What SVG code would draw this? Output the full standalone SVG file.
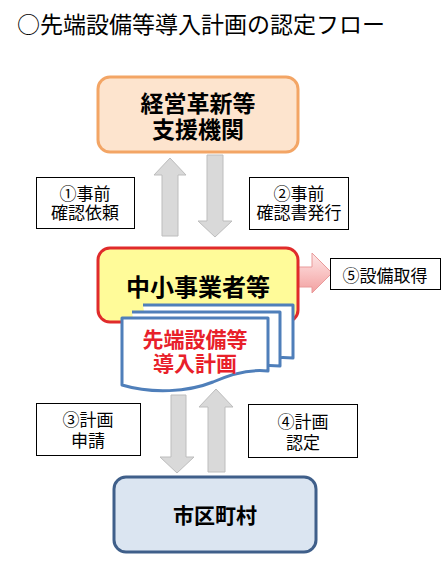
<svg xmlns="http://www.w3.org/2000/svg" width="447" height="572" viewBox="0 0 447 572">
<defs>
<linearGradient id="pinkGrad" x1="0" y1="0" x2="0" y2="1">
<stop offset="0" stop-color="#fde6e6"/>
<stop offset="0.5" stop-color="#f9c4c4"/>
<stop offset="1" stop-color="#f2a0a0"/>
</linearGradient>
</defs>
<style>
text{font-family:"Noto Sans CJK JP","Noto Sans CJK SC",sans-serif;text-anchor:middle;fill:#000}
.title{font-size:23px;text-anchor:start}
.lbl{font-size:17px}
.big{font-weight:bold}
.gray{fill:#d9d9d9;stroke:#bdbdbd;stroke-width:1}
.note{fill:#fff;stroke:#000;stroke-width:1}
.doc{fill:#fff;stroke:#4f7fba;stroke-width:3;stroke-linejoin:round}
</style>
<rect width="447" height="572" fill="#fff"/>
<text class="title" x="17" y="33">○先端設備等導入計画の認定フロー</text>

<g id="connectors">
<polygon class="gray" points="170,158 186,175 178,175 178,236 162,236 162,175 154,175"/>
<polygon class="gray" points="207,155 223,155 223,221 232,221 215,237 198,221 207,221"/>
<polygon class="gray" points="171,395 186,395 186,457 194,457 177,473 160,457 171,457"/>
<polygon class="gray" points="216,389 233,407 225,407 225,472 208,472 208,407 199,407"/>
<polygon points="280,267 312,267 312,253 332,273 312,293 312,287 280,287" fill="url(#pinkGrad)" stroke="#e99a9a" stroke-width="1"/>
</g>

<g id="node-support">
<rect x="98" y="77" width="200" height="75" rx="12" fill="#fde4ce" stroke="#f3a565" stroke-width="3"/>
<text class="big" x="198" y="112" font-size="23">経営革新等</text>
<text class="big" x="198" y="138" font-size="23">支援機関</text>
</g>

<g id="node-step1">
<rect class="note" x="36.5" y="177.5" width="98" height="51"/>
<text class="lbl" x="85" y="199.5">①事前</text>
<text class="lbl" x="85" y="218.5">確認依頼</text>
</g>

<g id="node-step2">
<rect class="note" x="249.5" y="177.5" width="99" height="52"/>
<text class="lbl" x="299" y="199.5">②事前</text>
<text class="lbl" x="299" y="218.5">確認書発行</text>
</g>

<g id="node-sme">
<rect x="98" y="248" width="200" height="74" rx="12" fill="#fffb99" stroke="#e02b2b" stroke-width="3"/>
<text class="big" x="198" y="296" font-size="24">中小事業者等</text>
</g>

<g id="node-step5">
<rect class="note" x="330.5" y="258.5" width="110" height="31"/>
<text class="lbl" x="385" y="281.5">⑤設備取得</text>
</g>

<g id="node-plan">
<path class="doc" d="M143,305 H293 V358 C272,356 258,360 240,368 C218,378 180,378 153,372"/>
<path class="doc" d="M132,312 H280 V366 C258,364 244,368 226,376 C204,386 166,386 142,379"/>
<path class="doc" d="M122,318 H268 V371 C250,369 233,373 213,382 C188,392 152,394 122,385 Z"/>
<text class="big" x="195" y="347" font-size="21" fill="#e8202a" style="fill:#e8202a">先端設備等</text>
<text class="big" x="195" y="371" font-size="21" style="fill:#e8202a">導入計画</text>
</g>

<g id="node-step3">
<rect class="note" x="36.5" y="403.5" width="104" height="52"/>
<text class="lbl" x="88" y="425.5">③計画</text>
<text class="lbl" x="88" y="446.5">申請</text>
</g>

<g id="node-step4">
<rect class="note" x="248.5" y="404.5" width="109" height="53"/>
<text class="lbl" x="303" y="427.5">④計画</text>
<text class="lbl" x="303" y="448.5">認定</text>
</g>

<g id="node-municipality">
<rect x="114" y="477" width="202" height="75" rx="12" fill="#dbe5f1" stroke="#3f5f8a" stroke-width="3"/>
<text class="big" x="215" y="523" font-size="21">市区町村</text>
</g>
</svg>
